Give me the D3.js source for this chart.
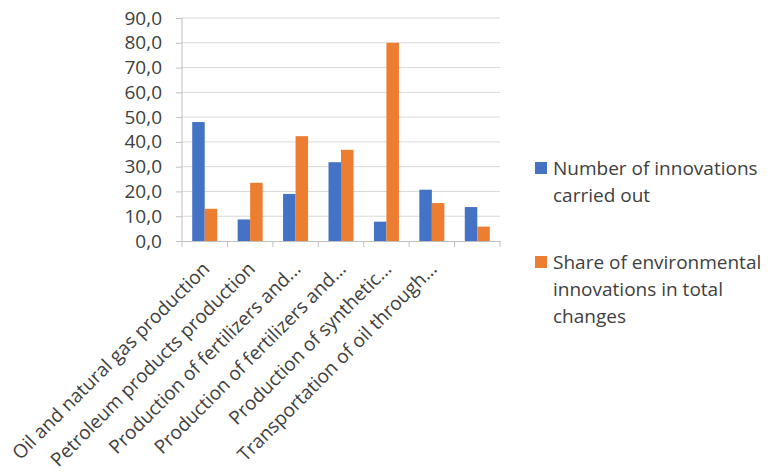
<!DOCTYPE html>
<html>
<head>
<meta charset="utf-8">
<script src="https://cdn.jsdelivr.net/npm/d3@7"></script>
<style>
  body { margin: 0; background: #fff; }
  text { font-family: "Open Sans", "Noto Sans", sans-serif; fill: #404040; }
</style>
</head>
<body>
<svg id="chart" width="770" height="473"></svg>
<script>
// seventh category has no label in the picture
const categories = [
  "Oil and natural gas production",
  "Petroleum products production",
  "Production of fertilizers and...",
  "Production of fertilizers and...",
  "Production of synthetic...",
  "Transportation of oil through...",
  ""
];

const innovations = [48.0, 8.7, 19.0, 31.8, 7.8, 20.7, 13.7];
const envShare = [13.0, 23.5, 42.3, 36.8, 80.0, 15.3, 5.8];
const yTicks = [0, 10, 20, 30, 40, 50, 60, 70, 80, 90];
const seriesNames = [
  ["Number of innovations", "carried out"],
  ["Share of environmental", "innovations in total", "changes"]
];
const colors = ["#4472c4", "#ed7d31"];

const svg = d3.select("#chart");
const margin = {left: 182, right: 270, top: 18, bottom: 232};
const width = 770 - margin.left - margin.right;
const height = 473 - margin.top - margin.bottom;
const fontSize = "19px";

const g = svg.append("g").attr("transform", `translate(${margin.left},${margin.top})`);

const keys = categories.map((c, i) => i);
const x = d3.scaleBand().domain(keys).range([0, width]);
const y = d3.scaleLinear().domain([0, 90]).range([height, 0]);

const inner = d3.scaleBand().domain([0, 1]).range([0, 25]);
const groupOffset = (x.bandwidth() - 25) / 2;

// gridlines
g.append("g")
  .selectAll("line")
  .data(yTicks.filter(d => d > 0))
  .join("line")
  .attr("x1", 0).attr("x2", width)
  .attr("y1", d => y(d)).attr("y2", d => y(d))
  .attr("stroke", "#d9d9d9").attr("stroke-width", 1);

// y axis
const yAxis = d3.axisLeft(y).tickValues(yTicks).tickSize(6).tickPadding(14)
  .tickFormat(d => d3.format(".1f")(d).replace(".", ","));
const yg = g.append("g").call(yAxis);
yg.select(".domain").attr("stroke", "#bfbfbf").attr("d", `M0,0V${height}`);
yg.selectAll(".tick line").attr("stroke", "#bfbfbf");
yg.selectAll("text").style("font-size", fontSize).attr("fill", "#404040");

// bars
const groups = g.append("g").selectAll("g")
  .data(keys)
  .join("g")
  .attr("transform", d => `translate(${x(d) + groupOffset},0)`);

groups.selectAll("rect")
  .data(i => [innovations[i], envShare[i]])
  .join("rect")
  .attr("x", (d, j) => inner(j))
  .attr("width", inner.bandwidth())
  .attr("y", d => y(d))
  .attr("height", d => y(0) - y(d))
  .attr("fill", (d, j) => colors[j]);

// x axis
const xAxis = d3.axisBottom(x).tickSize(0).tickFormat(i => categories[i]);
const xg = g.append("g").attr("transform", `translate(0,${height})`).call(xAxis);
xg.select(".domain").attr("stroke", "#bfbfbf");
xg.selectAll("text")
  .style("font-size", fontSize)
  .attr("fill", "#404040")
  .attr("text-anchor", "end")
  .attr("dy", 0)
  .attr("transform", "translate(4,27) rotate(-45)");

// tick marks between categories
xg.append("g").selectAll("line")
  .data(d3.range(keys.length + 1))
  .join("line")
  .attr("x1", i => i * x.step()).attr("x2", i => i * x.step())
  .attr("y1", 0).attr("y2", 6)
  .attr("stroke", "#bfbfbf");

// legend
const legend = svg.append("g").attr("transform", "translate(535,0)");
const entryY = [168, 262];
seriesNames.forEach((lines, k) => {
  legend.append("rect")
    .attr("x", 0).attr("y", entryY[k] - 6)
    .attr("width", 12).attr("height", 12)
    .attr("fill", colors[k]);
  const t = legend.append("text")
    .attr("x", 18).attr("y", entryY[k])
    .attr("dominant-baseline", "central")
    .style("font-size", fontSize);
  lines.forEach((ln, li) => {
    t.append("tspan").attr("x", 18).attr("dy", li === 0 ? 0 : 27).text(ln);
  });
});
</script>
</body>
</html>
